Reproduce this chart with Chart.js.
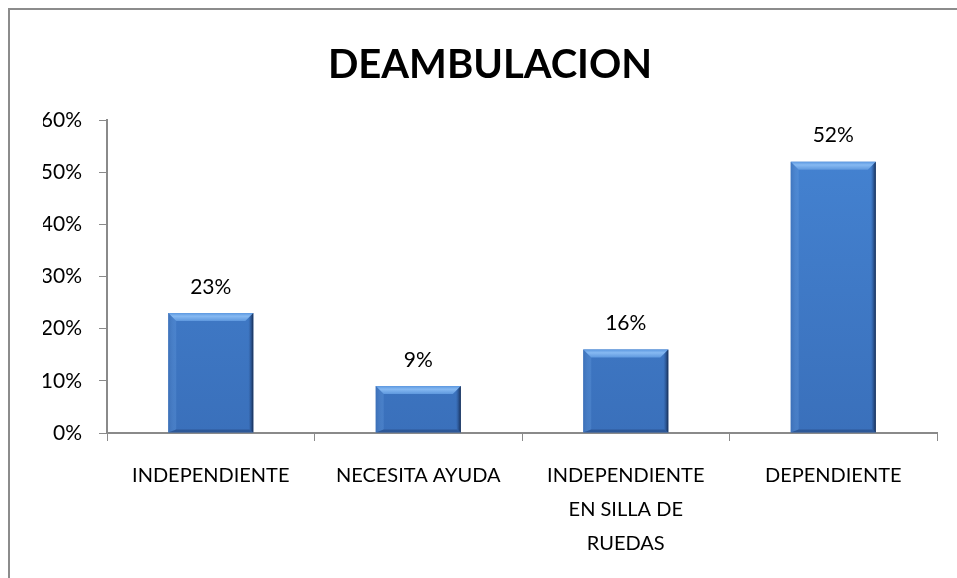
<!DOCTYPE html>
<html>
<head>
<meta charset="utf-8">
<script src="https://cdn.jsdelivr.net/npm/chart.js@4"></script>
<style>
  html, body { margin: 0; padding: 0; background: #fff; }
  #wrap { width: 957px; height: 578px; }
</style>
</head>
<body>
<div id="wrap"><canvas id="myChart" width="957" height="578"></canvas></div>
<script>
// datos del grafico
const chartTitle = 'DEAMBULACION';
const categories = [
    ['INDEPENDIENTE'],
    ['NECESITA AYUDA'],
    ['INDEPENDIENTE', 'EN SILLA DE', 'RUEDAS'],
    ['DEPENDIENTE']
];
const values = [23, 9, 16, 52]; // porcentaje
const yTicks = [0, 10, 20, 30, 40, 50, 60];

const FONT = 'Lato, "Noto Sans", sans-serif';
const axisGray = '#8a8a8a';

// marco gris alrededor del grafico
const framePlugin = {
    id: 'frame',
    beforeDraw(chart) {
        const ctx = chart.ctx;
        ctx.save();
        ctx.fillStyle = '#fff';
        ctx.fillRect(0, 0, chart.width, chart.height);
        ctx.strokeStyle = '#8c8c8c';
        ctx.lineWidth = 2;
        ctx.strokeRect(9, 9, chart.width + 20, chart.height + 20);
        ctx.restore();
    }
};

// efecto bisel tipo Excel + etiquetas de valor
const bevelPlugin = {
    id: 'bevel',
    afterDatasetsDraw(chart) {
        const ctx = chart.ctx;
        const meta = chart.getDatasetMeta(0);
        meta.data.forEach((bar, i) => {
            const l = bar.x - bar.width / 2, r = bar.x + bar.width / 2;
            const t = bar.y, b = bar.base;
            const s = Math.min(8, (b - t) / 3);
            ctx.save();
            // borde superior claro
            ctx.beginPath();
            ctx.moveTo(l, t); ctx.lineTo(r, t); ctx.lineTo(r - s, t + s); ctx.lineTo(l + s, t + s); ctx.closePath();
            const gTop = ctx.createLinearGradient(0, t, 0, t + s);
            gTop.addColorStop(0, '#5c98e0');
            gTop.addColorStop(0.4, '#86b9f2');
            gTop.addColorStop(1, '#5e98de');
            ctx.fillStyle = gTop; ctx.fill();
            // borde izquierdo
            ctx.beginPath();
            ctx.moveTo(l, t); ctx.lineTo(l + s, t + s); ctx.lineTo(l + s, b - 3); ctx.lineTo(l, b); ctx.closePath();
            const gL = ctx.createLinearGradient(l, 0, l + s, 0);
            gL.addColorStop(0, 'rgba(60,110,180,0.6)');
            gL.addColorStop(1, 'rgba(110,165,230,0.25)');
            ctx.fillStyle = gL; ctx.fill();
            // borde derecho oscuro
            ctx.beginPath();
            ctx.moveTo(r, t); ctx.lineTo(r, b); ctx.lineTo(r - 4, b - 3); ctx.lineTo(r - s, t + s); ctx.closePath();
            const gR = ctx.createLinearGradient(r - 5, 0, r, 0);
            gR.addColorStop(0, 'rgba(45,90,155,0.0)');
            gR.addColorStop(0.5, 'rgba(35,70,125,0.6)');
            gR.addColorStop(1, 'rgba(20,40,75,0.95)');
            ctx.fillStyle = gR; ctx.fill();
            // borde inferior
            ctx.beginPath();
            ctx.moveTo(l, b); ctx.lineTo(l + s, b - 3); ctx.lineTo(r - 4, b - 3); ctx.lineTo(r, b); ctx.closePath();
            ctx.fillStyle = 'rgba(30,60,110,0.45)'; ctx.fill();
            ctx.restore();

            // etiqueta
            ctx.save();
            ctx.font = '21px ' + FONT;
            ctx.fillStyle = '#000';
            ctx.textAlign = 'center';
            ctx.textBaseline = 'middle';
            ctx.fillText(values[i] + '%', bar.x, t - 26);
            ctx.restore();
        });
    }
};

const ctx = document.getElementById('myChart').getContext('2d');
const barFill = ctx.createLinearGradient(0, 120, 0, 433);
barFill.addColorStop(0, '#4584d3');
barFill.addColorStop(1, '#3a70bb');

new Chart(ctx, {
    type: 'bar',
    data: {
        labels: categories,
        datasets: [{
            data: values,
            backgroundColor: barFill,
            borderWidth: 0,
            barPercentage: 0.41,
            categoryPercentage: 1
        }]
    },
    options: {
        responsive: false,
        animation: false,
        layout: { padding: { left: 43, right: 20, top: 0, bottom: 0 } },
        plugins: {
            legend: { display: false },
            tooltip: { enabled: false },
            title: {
                display: true,
                text: chartTitle,
                color: '#000',
                font: { family: FONT, size: 40, weight: 'bold' },
                padding: { top: 41, bottom: 31 }
            }
        },
        scales: {
            x: {
                grid: { drawOnChartArea: false, color: axisGray, tickLength: 8, offset: true },
                border: { color: axisGray, width: 2 },
                ticks: {
                    color: '#000',
                    font: { family: FONT, size: 20, lineHeight: 1.72 },
                    padding: 17,
                    maxRotation: 0
                },
                afterFit(scale) { scale.height = 145; }
            },
            y: {
                min: 0,
                max: 60,
                afterBuildTicks(scale) { scale.ticks = yTicks.map(v => ({ value: v })); },
                grid: { drawOnChartArea: false, color: axisGray, tickLength: 8 },
                border: { color: axisGray, width: 2 },
                ticks: {
                    color: '#000',
                    font: { family: FONT, size: 21 },
                    padding: 17,
                    callback: v => v + '%'
                },
                afterFit(scale) { scale.width = 64; }
            }
        }
    },
    plugins: [framePlugin, bevelPlugin]
});
</script>
</body>
</html>
